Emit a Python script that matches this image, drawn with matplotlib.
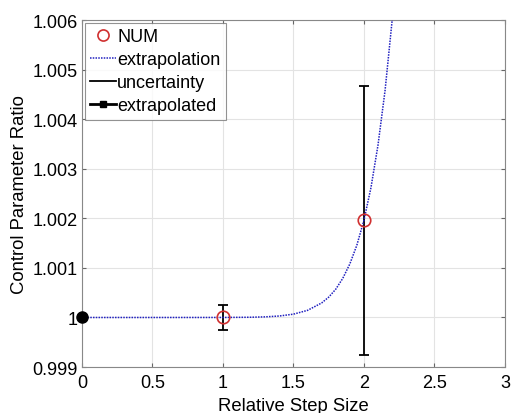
import matplotlib
matplotlib.use('Agg')
import matplotlib.pyplot as plt
from matplotlib.lines import Line2D

plt.rcParams['font.family'] = ['Liberation Sans', 'DejaVu Sans']

# numerical results
num_h = [1, 2]
num_val = [1.0, 1.00196]
num_err = [0.00025, 0.00272]

# extrapolated value at zero step size
extr_h = [0]
extr_val = [1.0]

# extrapolation curve
curve_h = [0, 0.5, 1.0, 1.2, 1.3, 1.4, 1.5, 1.6, 1.7, 1.75, 1.8, 1.85,
           1.9, 1.95, 2.0, 2.05, 2.1, 2.15, 2.2, 2.25]
curve_val = [1.0, 1.0, 1.0000006, 1.000005, 1.0000127, 1.00003, 1.000067,
             1.000144, 1.000293, 1.00041, 1.00057, 1.00079, 1.00108,
             1.00146, 1.00196, 1.00262, 1.00348, 1.00458, 1.00599, 1.0078]

x_ticks = [0, 0.5, 1, 1.5, 2, 2.5, 3]
x_labels = ['0', '0.5', '1', '1.5', '2', '2.5', '3']
y_ticks = [0.999, 1.0, 1.001, 1.002, 1.003, 1.004, 1.005, 1.006]
y_labels = ['0.999', '1', '1.001', '1.002', '1.003', '1.004', '1.005', '1.006']

fig = plt.figure(figsize=(5.11, 4.14), dpi=100)
ax = fig.add_axes([0.1605, 0.111, 0.8275, 0.838])

ax.plot(curve_h, curve_val, ls=(0, (1, 0.8)), color='#2020c0', lw=1.1, zorder=3)
ax.errorbar(num_h, num_val, yerr=num_err, fmt='none', ecolor='black',
            elinewidth=1.3, capsize=3.5, capthick=1.3, zorder=2)
ax.plot(num_h, num_val, 'o', mfc='none', mec='#d03030', ms=9, mew=1.2, zorder=4)
ax.plot(extr_h, extr_val, 'o', color='black', ms=8, zorder=5, clip_on=False)

ax.set_xlim(0, 3)
ax.set_ylim(0.999, 1.006)
ax.set_xticks(x_ticks)
ax.set_xticklabels(x_labels)
ax.set_yticks(y_ticks)
ax.set_yticklabels(y_labels)
ax.tick_params(direction='in', labelsize=13, length=3, color='#666666',
               top=True, right=True, pad=3)
ax.tick_params(axis='x', pad=5)
ax.grid(True, color='#e3e3e3', lw=0.8)
ax.set_axisbelow(True)
for s in ax.spines.values():
    s.set_color('#888888')
    s.set_linewidth(0.8)

ax.set_xlabel('Relative Step Size', fontsize=13.3, labelpad=4)
ax.set_ylabel('Control Parameter Ratio', fontsize=13.3, labelpad=3)

handles = [
    Line2D([], [], ls='none', marker='o', mfc='none', mec='#d03030', ms=8, mew=1.2),
    Line2D([], [], ls=(0, (1, 0.8)), color='#2020c0', lw=1.1),
    Line2D([], [], ls='-', color='black', lw=1.3),
    Line2D([], [], ls='-', color='black', lw=2, marker='s', ms=4),
]
leg = ax.legend(handles, ['NUM', 'extrapolation', 'uncertainty', 'extrapolated'],
                loc='upper left', fontsize=13, frameon=True, fancybox=False,
                borderaxespad=0.15, handlelength=1.45, handletextpad=0.05,
                labelspacing=0.33, borderpad=0.3)
leg.get_frame().set_edgecolor('#777777')
leg.get_frame().set_linewidth(0.8)

fig.savefig('out.png', dpi=100)
